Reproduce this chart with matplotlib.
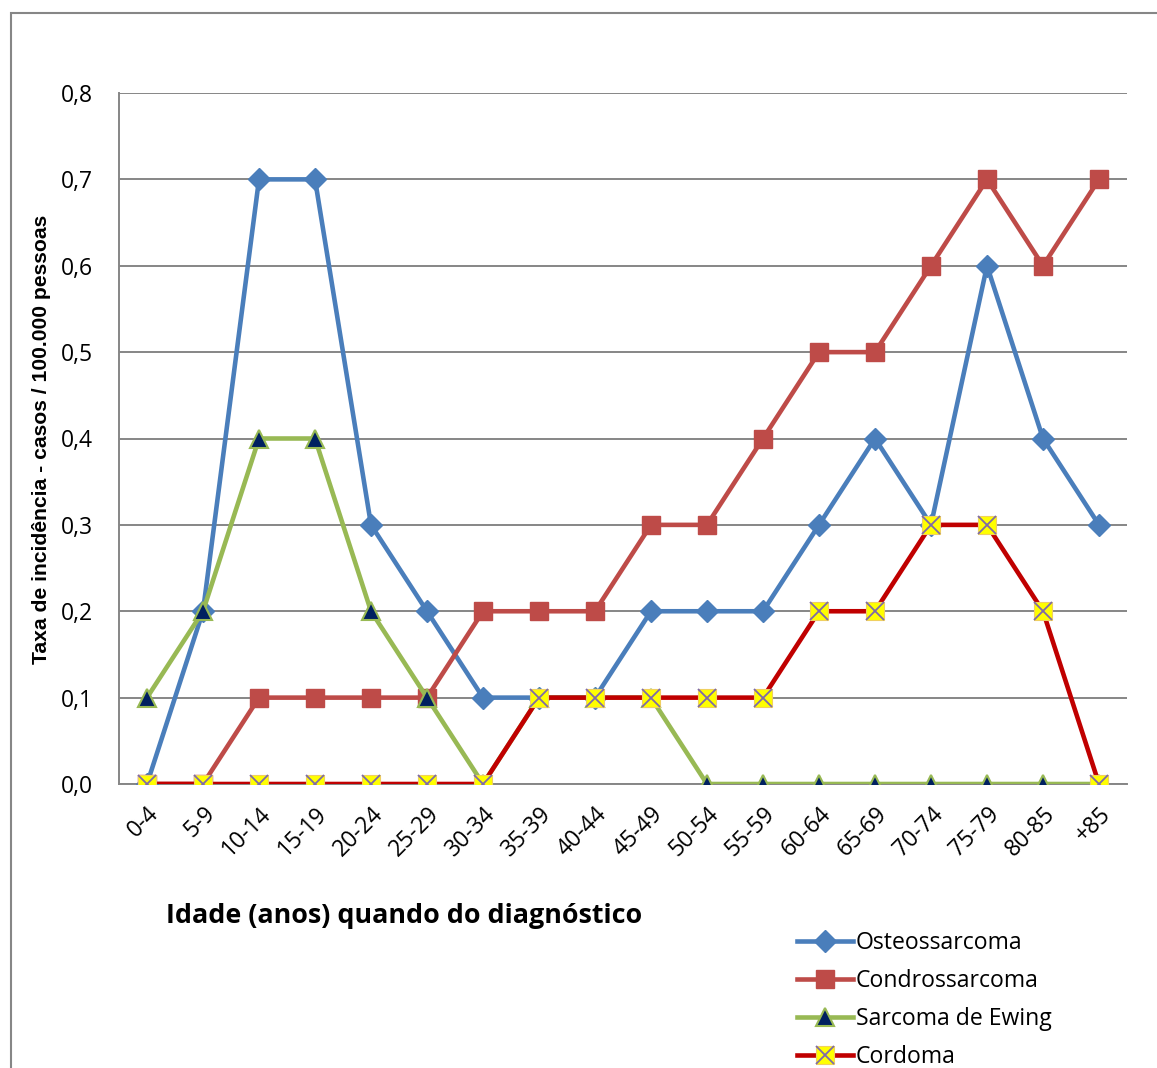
import matplotlib.pyplot as plt
from matplotlib.patches import Rectangle
from matplotlib.ticker import FuncFormatter

# faixas etárias e taxas de incidência (casos / 100.000 pessoas)
faixas = ['0-4', '5-9', '10-14', '15-19', '20-24', '25-29', '30-34', '35-39', '40-44',
          '45-49', '50-54', '55-59', '60-64', '65-69', '70-74', '75-79', '80-85', '+85']
osteo = [0.0, 0.2, 0.7, 0.7, 0.3, 0.2, 0.1, 0.1, 0.1,
         0.2, 0.2, 0.2, 0.3, 0.4, 0.3, 0.6, 0.4, 0.3]
condro = [0.0, 0.0, 0.1, 0.1, 0.1, 0.1, 0.2, 0.2, 0.2,
          0.3, 0.3, 0.4, 0.5, 0.5, 0.6, 0.7, 0.6, 0.7]
ewing = [0.1, 0.2, 0.4, 0.4, 0.2, 0.1, 0.0, 0.1, 0.1,
         0.1, 0.0, 0.0, 0.0, 0.0, 0.0, 0.0, 0.0, 0.0]
cordoma = [0.0, 0.0, 0.0, 0.0, 0.0, 0.0, 0.0, 0.1, 0.1,
           0.1, 0.1, 0.1, 0.2, 0.2, 0.3, 0.3, 0.2, 0.0]

fonte = 'Open Sans'
cinza = '#868686'

fig = plt.figure(figsize=(11.57, 10.68), dpi=100)
ax = fig.add_axes([119/1157, 284/1068, 1008/1157, 691/1068])

x = range(len(faixas))
lw = 3.3
h1, = ax.plot(x, osteo, color='#4A7EBB', lw=lw, marker='D', ms=11,
              mfc='#4A7EBB', mec='#4A7EBB', zorder=3)
h2, = ax.plot(x, condro, color='#BE4B48', lw=lw, marker='s', ms=13.5,
              mfc='#BE4B48', mec='#BE4B48', zorder=4)
h3, = ax.plot(x, ewing, color='#98B954', lw=lw, marker='^', ms=13,
              mfc='#002060', mec='#98B954', mew=1.5, zorder=5)
h4, = ax.plot(x, cordoma, color='#C00000', lw=lw, marker='s', ms=13.5,
              mfc='#FFFF00', mec='#F0D060', mew=0.8, zorder=6)
h4x, = ax.plot(x, cordoma, ls='none', marker='x', ms=12.5, mec='#7E6AA8',
               mew=1.3, zorder=7)

ax.set_xlim(-0.5, len(faixas) - 0.5)
ax.set_ylim(0, 0.8)
ax.set_yticks([i / 10 for i in range(9)])
ax.yaxis.set_major_formatter(FuncFormatter(lambda v, p: f'{v:.1f}'.replace('.', ',')))
ax.set_xticks(list(x))
ax.set_xticklabels(faixas, rotation=45, ha='right', rotation_mode='anchor')
ax.tick_params(axis='both', length=0, labelsize=16.5, labelfontfamily=fonte)
ax.tick_params(axis='x', pad=13)
ax.tick_params(axis='y', pad=19)
ax.grid(axis='y', color=cinza, lw=1.4)
ax.set_axisbelow(True)
for s in ['top', 'right']:
    ax.spines[s].set_visible(False)
for s in ['left', 'bottom']:
    ax.spines[s].set_color(cinza)
    ax.spines[s].set_linewidth(1.4)

fig.text(404/1157, 1 - 916/1068, 'Idade (anos) quando do diagnóstico', family=fonte,
         fontsize=19.4, fontweight='bold', ha='center', va='center')
fig.text(42/1157, 1 - 439/1068, 'Taxa de incidência - casos / 100.000 pessoas',
         family='Liberation Sans', fontsize=15.2, fontweight='bold', rotation=90,
         ha='center', va='center')

# moldura externa do gráfico
fig.patches.append(Rectangle((11/1157, -0.1), 1.2, 1 - 13/1068 + 0.1,
                             transform=fig.transFigure, fill=False,
                             edgecolor=cinza, lw=1.5))

leg = fig.legend([h1, h2, h3, (h4, h4x)],
                 ['Osteossarcoma', 'Condrossarcoma', 'Sarcoma de Ewing', 'Cordoma'],
                 loc='upper left', bbox_to_anchor=(788/1157, 1 - 922/1068),
                 frameon=False, prop={'family': fonte, 'size': 16.6},
                 handlelength=2.4, handletextpad=0.13, labelspacing=0.6,
                 borderaxespad=0)

fig.savefig('out.png', dpi=100)
